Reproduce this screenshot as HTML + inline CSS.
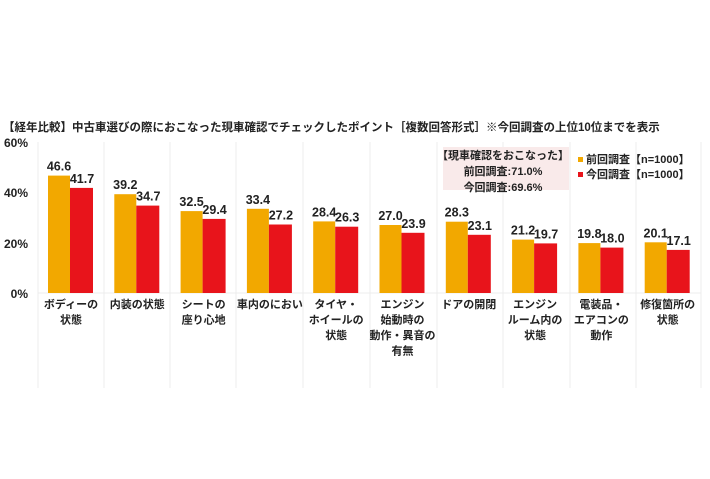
<!DOCTYPE html>
<html><head><meta charset="utf-8"><style>
body{margin:0;background:#fff}
text{font-family:"Liberation Sans","Noto Sans CJK JP",sans-serif;font-weight:bold}
</style></head><body>
<svg width="710" height="474" viewBox="0 0 710 474" xmlns="http://www.w3.org/2000/svg">
<rect width="710" height="474" fill="#fff"/>
<text x="3" y="131" font-size="11.5" fill="#222">【経年比較】中古車選びの際におこなった現車確認でチェックしたポイント［複数回答形式］※今回調査の上位10位までを表示</text>
<g stroke="#ececec" stroke-width="1">
<line x1="38" y1="142" x2="38" y2="388"/><line x1="104" y1="142" x2="104" y2="388"/><line x1="170" y1="142" x2="170" y2="388"/><line x1="236" y1="142" x2="236" y2="388"/><line x1="303" y1="142" x2="303" y2="388"/><line x1="370" y1="142" x2="370" y2="388"/><line x1="437" y1="142" x2="437" y2="388"/><line x1="503" y1="142" x2="503" y2="388"/><line x1="570" y1="142" x2="570" y2="388"/><line x1="636" y1="142" x2="636" y2="388"/><line x1="701" y1="142" x2="701" y2="388"/>
<line x1="38" y1="293" x2="701" y2="293"/>
</g>
<g font-size="12" fill="#222" text-anchor="end">
<text x="28" y="147">60%</text><text x="28" y="197">40%</text><text x="28" y="248">20%</text><text x="28" y="298">0%</text>
</g>
<rect x="443" y="147" width="126" height="43" fill="#f9eaea"/>
<g font-size="11" fill="#222" text-anchor="middle">
<text x="503" y="159">【現車確認をおこなった】</text>
<text x="503" y="175">前回調査:71.0%</text>
<text x="503" y="191">今回調査:69.6%</text>
</g>
<rect x="578" y="157" width="5" height="5" fill="#f2a800"/>
<rect x="578" y="172" width="5" height="5" fill="#e8141b"/>
<g font-size="11" fill="#222"><text x="586" y="163">前回調査【n=1000】</text><text x="586" y="178">今回調査【n=1000】</text></g>
<g fill="#f2a800">
<rect x="48" y="175.6" width="22" height="117.4"/>
<rect x="114.3" y="194.2" width="22" height="98.8"/>
<rect x="180.6" y="211.1" width="22" height="81.9"/>
<rect x="246.9" y="208.8" width="22" height="84.2"/>
<rect x="313.2" y="221.4" width="22" height="71.6"/>
<rect x="379.5" y="225" width="22" height="68"/>
<rect x="445.8" y="221.7" width="22" height="71.3"/>
<rect x="512.1" y="239.6" width="22" height="53.4"/>
<rect x="578.4" y="243.1" width="22" height="49.9"/>
<rect x="644.7" y="242.3" width="22" height="50.7"/>
</g>
<g fill="#e8141b">
<rect x="70" y="187.9" width="23" height="105.1"/>
<rect x="136.3" y="205.6" width="23" height="87.4"/>
<rect x="202.6" y="218.9" width="23" height="74.1"/>
<rect x="268.9" y="224.5" width="23" height="68.5"/>
<rect x="335.2" y="226.7" width="23" height="66.3"/>
<rect x="401.5" y="232.8" width="23" height="60.2"/>
<rect x="467.8" y="234.8" width="23" height="58.2"/>
<rect x="534.1" y="243.4" width="23" height="49.6"/>
<rect x="600.4" y="247.6" width="23" height="45.4"/>
<rect x="666.7" y="249.9" width="23" height="43.1"/>
</g>
<g font-size="12.5" fill="#222" text-anchor="middle">
<text x="59" y="170.6">46.6</text><text x="82" y="182.9">41.7</text>
<text x="125.3" y="189.2">39.2</text><text x="148.3" y="200.6">34.7</text>
<text x="191.6" y="206.1">32.5</text><text x="214.6" y="213.9">29.4</text>
<text x="257.9" y="203.8">33.4</text><text x="280.9" y="219.5">27.2</text>
<text x="324.2" y="216.4">28.4</text><text x="347.2" y="221.7">26.3</text>
<text x="390.5" y="220">27.0</text><text x="413.5" y="227.8">23.9</text>
<text x="456.8" y="216.7">28.3</text><text x="479.8" y="229.8">23.1</text>
<text x="523.1" y="234.6">21.2</text><text x="546.1" y="238.4">19.7</text>
<text x="589.4" y="238.1">19.8</text><text x="612.4" y="242.6">18.0</text>
<text x="655.7" y="237.3">20.1</text><text x="678.7" y="244.9">17.1</text>
</g>
<g font-size="11" fill="#222" text-anchor="middle">
<text x="71" y="308">ボディーの</text><text x="71" y="323.5">状態</text>
<text x="137.3" y="308">内装の状態</text>
<text x="203.6" y="308">シートの</text><text x="203.6" y="323.5">座り心地</text>
<text x="269.9" y="308">車内のにおい</text>
<text x="336.2" y="308">タイヤ・</text><text x="336.2" y="323.5">ホイールの</text><text x="336.2" y="339">状態</text>
<text x="402.5" y="308">エンジン</text><text x="402.5" y="323.5">始動時の</text><text x="402.5" y="339">動作・異音の</text><text x="402.5" y="354.5">有無</text>
<text x="468.8" y="308">ドアの開閉</text>
<text x="535.1" y="308">エンジン</text><text x="535.1" y="323.5">ルーム内の</text><text x="535.1" y="339">状態</text>
<text x="601.4" y="308">電装品・</text><text x="601.4" y="323.5">エアコンの</text><text x="601.4" y="339">動作</text>
<text x="667.7" y="308">修復箇所の</text><text x="667.7" y="323.5">状態</text>
</g>
</svg>
</body></html>
